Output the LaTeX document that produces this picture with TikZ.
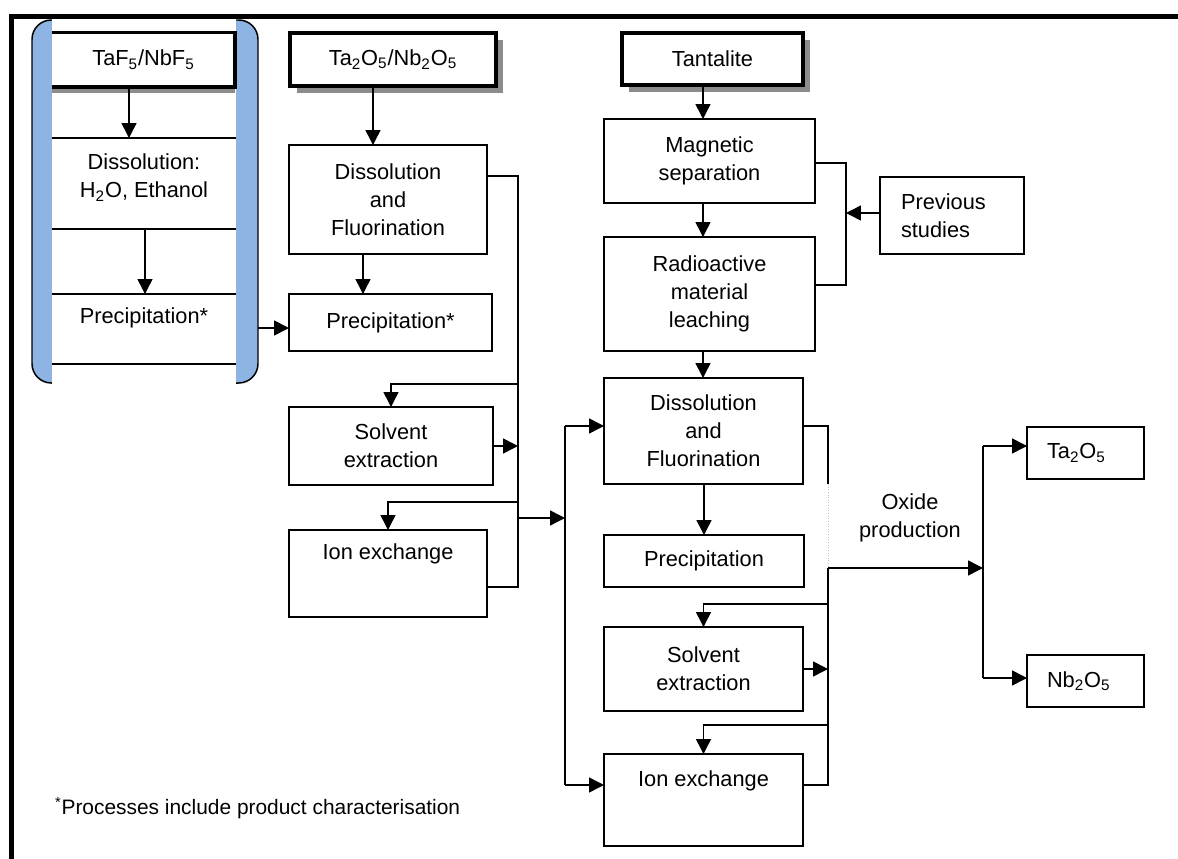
\documentclass[tikz,border=0pt]{standalone}
\usepackage{fontspec}
\setmainfont{Liberation Sans}
\usetikzlibrary{arrows.meta,shadows}
\definecolor{panelblue}{HTML}{8DB4E2}
\definecolor{shadowgray}{HTML}{8C8C8C}
% process box given by its corners (x1,y1)-(x2,y2), a name and its text
\newcommand\procbox[7][]{%
  \node[proc,#1,minimum width={(#4-#2)*0.02cm},minimum height={(#5-#3)*0.02cm},anchor=north west] (#6) at (#2,#3) {#7};}
\newcommand\chemsub[1]{\textsubscript{#1}}
\begin{document}
\begin{tikzpicture}[x=0.02cm,y=-0.02cm,
  font=\fontsize{12.4}{15.9}\selectfont,
  proc/.style={draw,line width=0.85pt,fill=white,align=center,inner sep=0pt,outer sep=0pt},
  source/.style={proc,line width=2.2pt,general shadow={fill=shadowgray,shadow xshift=3.9pt,shadow yshift=-3.9pt}},
  link/.style={line width=0.85pt},
  arr/.style={link,-{Triangle[length=8.5pt,width=8.5pt]}},
  plain/.style={inner sep=0pt,outer sep=0pt,align=center}]
\useasboundingbox (0,0) rectangle (1178,859);

% fluoride route: blue panel with white centre
\node[draw,line width=0.85pt,fill=panelblue,rounded corners=11pt,outer sep=0pt,
      minimum width={226*0.02cm},minimum height={363*0.02cm},anchor=north west] (panel) at (32,20) {};
\fill[white] (52,19) rectangle (236,384);
\node[plain,minimum width={183*0.02cm},minimum height={54.5*0.02cm},anchor=north west] (taf) at (52,32.5) {TaF\chemsub5/NbF\chemsub5};
\fill[shadowgray] (taf.south west) rectangle ([yshift=-3.4pt]taf.south east);
\draw[line width=2.2pt] (taf.north west) -- (taf.north east) -- (taf.south east) -- (taf.south west);
\foreach \y in {138,229,294,364} \draw[link] (52,\y) -- (236,\y);
\coordinate (cut1) at (144,138);
\coordinate (cut2) at (144,229);
\coordinate (cut3) at (144,294);
\node[plain] (dis0) at (144,177.5) {Dissolution:\\H\chemsub2O, Ethanol};
\node[plain] (pre0) at (144,318) {Precipitation*};
\draw[arr] (129,0 |- taf.south) -- (129,0 |- cut1);
\draw[arr] (145,0 |- cut2) -- (145,0 |- cut3);

% oxide route
\procbox[source]{290}{33}{496}{86}{oxa}{Ta\chemsub2O\chemsub5/Nb\chemsub2O\chemsub5}
\procbox{289}{145}{487}{254}{dfa}{Dissolution\\and\\Fluorination}
\procbox{289}{294}{492}{351}{pra}{Precipitation*}
\procbox{289}{407}{493}{485}{sea}{Solvent\\extraction}
\procbox{289}{530}{487}{617}{ixa}{Ion exchange\\[9pt]\mbox{}}

% mineral route
\procbox[source]{622}{33}{803}{85}{tan}{Tantalite}
\procbox{604}{119}{815}{203}{mag}{Magnetic\\separation}
\procbox{604}{237}{815}{351}{rad}{Radioactive\\material\\leaching}
\procbox[text width=2.04cm,align=left]{880}{177}{1024}{254}{prev}{Previous\\studies}
\procbox{604}{378}{803}{484}{dfb}{Dissolution\\and\\Fluorination}
\procbox{604}{535}{804}{587}{prb}{Precipitation}
\procbox{604}{627}{803}{711}{seb}{Solvent\\extraction}
\procbox{604}{754}{803}{846}{ixb}{Ion exchange\\[9pt]\mbox{}}

% products
\procbox[text width=1.54cm,align=left]{1027}{427}{1144}{479}{tao}{Ta\chemsub2O\chemsub5}
\procbox[text width=1.54cm,align=left]{1027}{655}{1144}{707}{nbo}{Nb\chemsub2O\chemsub5}
\node[plain] (oxl) at (910,517.5) {Oxide\\production};
\node[plain,anchor=west,font=\fontsize{11.9}{14}\selectfont] (note) at (55,808) {\textsuperscript{*}Processes include product characterisation};

% connectors, oxide route
\draw[arr] (panel.east |- 0,328) -- (pra.west |- 0,328);
\draw[arr] (373,0 |- oxa.south) -- (373,0 |- dfa.north);
\draw[arr] (363,0 |- dfa.south) -- (363,0 |- pra.north);
\draw[link] (dfa.east |- 0,176) -- (518,176) -- (518,587) -- (ixa.east |- 0,587);
\draw[arr] (518,384) -| (sea.north);
\draw[arr] (sea.east) -- (518,0 |- sea.east);
\draw[arr] (518,502) -| (ixa.north);
\draw[arr] (518,518) -- (565,518);
\draw[link] (565,426) -- (565,785);
\draw[arr] (565,426) -- (dfb.west |- 0,426);
\draw[arr] (565,785) -- (ixb.west |- 0,785);

% connectors, mineral route
\draw[arr] (703,0 |- tan.south) -- (703,0 |- mag.north);
\draw[arr] (703,0 |- mag.south) -- (703,0 |- rad.north);
\draw[arr] (703,0 |- rad.south) -- (703,0 |- dfb.north);
\draw[link] (mag.east |- 0,163) -- (846,163) -- (846,285) -- (rad.east |- 0,285);
\draw[arr] (prev.west |- 0,213) -- (846,213);
\draw[arr] (704,0 |- dfb.south) -- (704,0 |- prb.north);
\draw[link] (dfb.east |- 0,426) -- (828,426) -- (828,484);
\draw[gray!50,line width=0.5pt,densely dotted] (828,484) -- (828,568);
\draw[link] (828,568) -- (828,785) -- (ixb.east |- 0,785);
\draw[arr] (828,604) -| (seb.north);
\draw[arr] (seb.east) -- (828,0 |- seb.east);
\draw[arr] (828,725) -| (ixb.north);
\draw[arr] (828,568) -- (983,568);
\draw[link] (983,446) -- (983,678);
\draw[arr] (983,446) -- (tao.west |- 0,446);
\draw[arr] (983,678) -- (nbo.west |- 0,678);

% page frame: top and left rules
\draw[line width=2.8pt] (11.5,859) -- (11.5,16.7) -- (1178,16.7);
\end{tikzpicture}
\end{document}
